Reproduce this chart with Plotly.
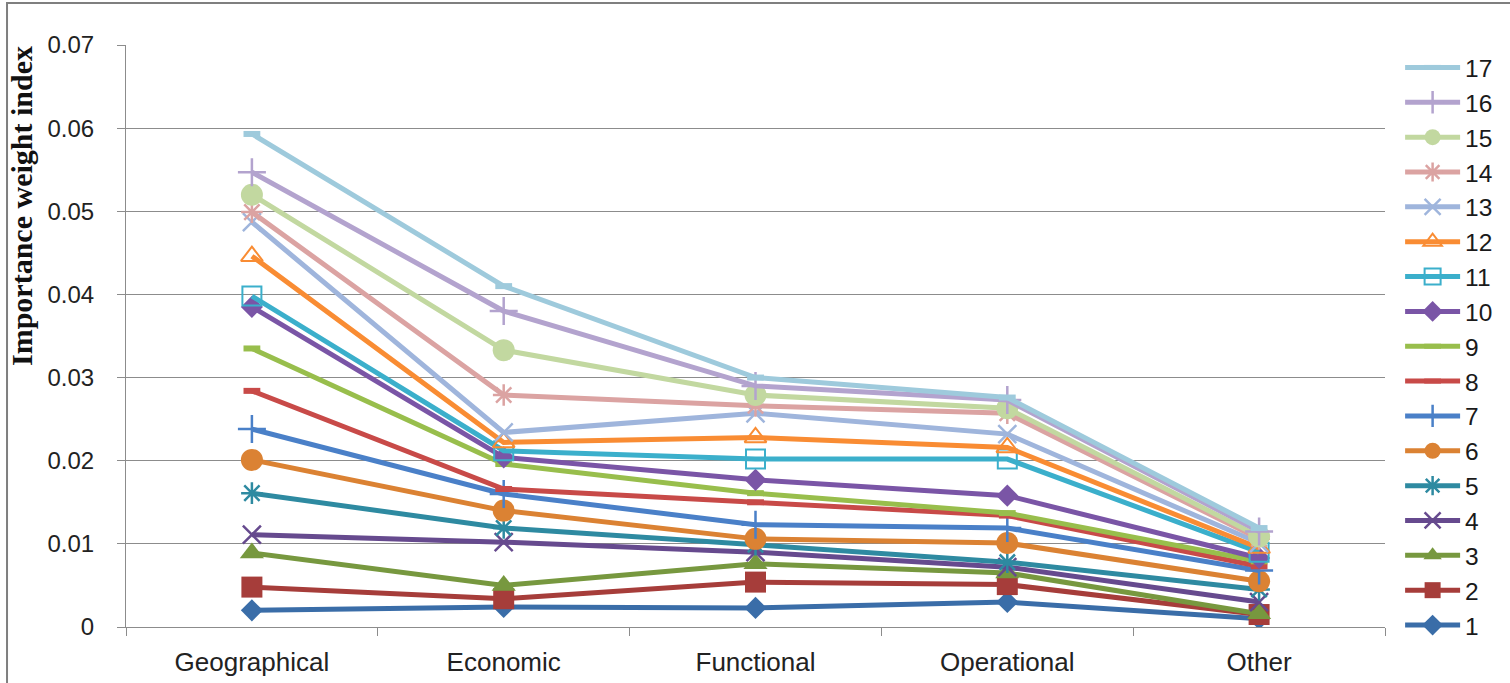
import plotly.graph_objects as go

# Criteria categories along the x axis
categories = ["Geographical", "Economic", "Functional", "Operational", "Other"]

# Importance weight index per series (1..17), one value per category
s1 = [0.0020, 0.0024, 0.0023, 0.0030, 0.0010]
s2 = [0.0048, 0.0034, 0.0054, 0.0051, 0.0015]
s3 = [0.0089, 0.0050, 0.0076, 0.0065, 0.0016]
s4 = [0.0111, 0.0102, 0.0090, 0.0072, 0.0030]
s5 = [0.0161, 0.0119, 0.0099, 0.0078, 0.0045]
s6 = [0.0201, 0.0140, 0.0106, 0.0101, 0.0055]
s7 = [0.0238, 0.0160, 0.0123, 0.0119, 0.0068]
s8 = [0.0284, 0.0166, 0.0150, 0.0134, 0.0073]
s9 = [0.0335, 0.0196, 0.0161, 0.0137, 0.0079]
s10 = [0.0385, 0.0204, 0.0177, 0.0158, 0.0083]
s11 = [0.0398, 0.0212, 0.0202, 0.0202, 0.0090]
s12 = [0.0446, 0.0222, 0.0228, 0.0216, 0.0095]
s13 = [0.0487, 0.0234, 0.0257, 0.0232, 0.0101]
s14 = [0.0499, 0.0279, 0.0266, 0.0257, 0.0106]
s15 = [0.0520, 0.0333, 0.0279, 0.0263, 0.0109]
s16 = [0.0547, 0.0380, 0.0290, 0.0273, 0.0115]
s17 = [0.0593, 0.0410, 0.0300, 0.0276, 0.0119]

series_names = [str(i) for i in range(1, 18)]
series_values = [s1, s2, s3, s4, s5, s6, s7, s8, s9, s10,
                 s11, s12, s13, s14, s15, s16, s17]

y_tick_values = [0, 0.01, 0.02, 0.03, 0.04, 0.05, 0.06, 0.07]
y_tick_labels = ["0", "0.01", "0.02", "0.03", "0.04", "0.05", "0.06", "0.07"]

colors = [
    "#3A6DA8", "#A63D3A", "#77983F", "#664A8E", "#2E8AA1", "#DB8233",
    "#4A80C8", "#C84A48", "#98BE4C", "#7A55A6", "#3BAFCB", "#F98C33",
    "#9FB5DC", "#DBA3A2", "#C2D8A0", "#B3A3CE", "#9ECADC",
]

# (symbol, size, marker outline width)
markers = [
    ("diamond", 17, 0),
    ("square", 21, 0),
    ("triangle-up", 21, 0),
    ("x-thin-open", 18, 2.5),
    ("asterisk-open", 18, 2.5),
    ("circle", 22, 0),
    ("cross-thin-open", 20, 2.5),
    ("line-ew-open", 12, 6),
    ("line-ew-open", 12, 6),
    ("diamond", 17, 0),
    ("square-open", 19, 2),
    ("triangle-up-open", 19, 2),
    ("x-thin-open", 18, 2.5),
    ("asterisk-open", 18, 2.5),
    ("circle", 22, 0),
    ("cross-thin-open", 20, 2.5),
    ("line-ew-open", 12, 6),
]

fig = go.Figure()
for name, vals, col, (sym, size, lw) in zip(series_names, series_values, colors, markers):
    fig.add_trace(go.Scatter(
        x=categories, y=vals, name=name, mode="lines+markers",
        line=dict(color=col, width=5),
        marker=dict(symbol=sym, size=size, color=col,
                    line=dict(color=col, width=lw)),
    ))

grey = "#8C8C8C"
sans = "Liberation Sans, Arial, sans-serif"
fig.update_layout(
    width=1510, height=683,
    margin=dict(l=126, r=125, t=45, b=56),
    paper_bgcolor="white", plot_bgcolor="white",
    showlegend=True,
    legend=dict(
        x=1.012, y=1.0, xanchor="left", yanchor="top",
        traceorder="reversed", maxheight=683,
        font=dict(family=sans, size=24.5, color="#1a1a1a"),
        itemwidth=55, bgcolor="rgba(0,0,0,0)",
    ),
    xaxis=dict(
        type="category", range=[-0.5, 4.5], automargin=False,
        showline=True, linecolor=grey, linewidth=1,
        ticks="outside", tickson="boundaries", ticklen=8, tickcolor=grey,
        showgrid=False, ticklabelstandoff=12,
        tickfont=dict(family=sans, size=26, color="#222"),
    ),
    yaxis=dict(
        range=[0, 0.07], tickvals=y_tick_values, ticktext=y_tick_labels,
        automargin=False,
        showline=True, linecolor=grey, linewidth=1,
        ticks="outside", ticklen=8, tickcolor=grey,
        showgrid=True, gridcolor=grey, gridwidth=1, zeroline=False,
        ticklabelstandoff=18,
        tickfont=dict(family=sans, size=24, color="#222"),
    ),
    annotations=[dict(
        text="<b>Importance weight index</b>", textangle=-90,
        xref="paper", yref="paper", x=(21 - 126) / 1259, y=(627 - 206) / 582,
        xanchor="center", yanchor="middle", showarrow=False,
        font=dict(family="Liberation Serif, Times New Roman, serif", size=30, color="#111"),
    )],
    shapes=[dict(type="rect", xref="paper", yref="paper",
                 x0=-0.0945, x1=1.3, y0=-0.3, y1=1.072,
                 line=dict(color="#7F7F7F", width=2), fillcolor="rgba(0,0,0,0)", layer="below")],
)

fig.write_html("out.html")
